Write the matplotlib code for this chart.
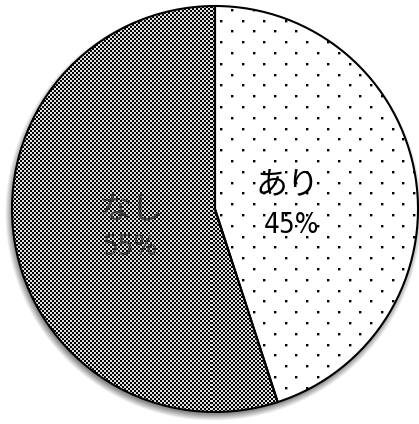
import numpy as np
import matplotlib
matplotlib.use("Agg")
import matplotlib.pyplot as plt
from matplotlib.patches import PathPatch

# Survey answer shares (percent)
labels = ["あり", "なし"]
shares = [45, 55]

W, H = 419, 424
fig = plt.figure(figsize=(W / 100, H / 100), dpi=100)
ax = fig.add_axes([0, 0, 1, 1])

# pie geometry in pixel units (y measured from the top)
cx, cy, r = 215, 209, 203

wedges, _ = ax.pie(shares, startangle=90, counterclock=False,
                   center=(cx, H - cy), radius=r,
                   colors=["white", "white"],
                   wedgeprops=dict(linewidth=0), frame=True)
ax.set_xlim(0, W)
ax.set_ylim(0, H)
ax.set_aspect("equal")
ax.axis("off")

yy, xx = np.mgrid[0:H, 0:W] + 0.5

# soft drop shadow under the disc
d = np.hypot(xx - (cx - 2), yy - (cy + 4))
sh = np.clip((r + 5 - d) / 7.0, 0, 1) * 0.45
shadow = np.zeros((H, W, 4))
shadow[..., 3] = sh
ax.imshow(shadow, extent=(0, W, 0, H), origin="upper",
          interpolation="bilinear", zorder=0.5)

# fine checker screen for the "なし" slice
ixx = np.arange(W)[None, :].repeat(H, 0)
iyy = np.arange(H)[:, None].repeat(W, 1)
checker = np.where((ixx // 2 + iyy // 2) % 2 == 0, 1.0, 0.12)
chk = np.zeros((H, W, 4))
chk[..., 3] = checker
im1 = ax.imshow(chk, extent=(0, W, 0, H), origin="upper",
                interpolation="nearest", zorder=2)
im1.set_clip_path(wedges[1])

# staggered dot screen for the "あり" slice
dot = np.array([[1.0, 1.0, 0.4],
                [1.0, 1.0, 0.4],
                [0.4, 0.4, 0.15]])
dots = np.zeros((H, W, 4))
dx, dy = 21.4, 10.8
k = 0
y = 106 - dy * 10
while y < H:
    x0 = 305 if k % 2 == 0 else 305 + dx / 2
    x = x0 - dx * 15
    while x < W:
        px, py = int(round(x)), int(round(y))
        if 0 <= px < W - 3 and 0 <= py < H - 3:
            dots[py:py + 3, px:px + 3, 3] = dot
        x += dx
    y += dy
    k += 1
im2 = ax.imshow(dots, extent=(0, W, 0, H), origin="upper",
                interpolation="nearest", zorder=2)
im2.set_clip_path(wedges[0])

# slice outlines on top of the screens
for w in wedges:
    ax.add_patch(PathPatch(w.get_path(), transform=w.get_transform(),
                           fill=False, lw=1.5, ec="black", zorder=4,
                           joinstyle="miter"))

jp = ["Noto Sans CJK JP", "DejaVu Sans"]
num_kw = dict(family=["DejaVu Sans"], fontstretch="condensed")

ax.text(288, H - 185, labels[0], ha="center", va="center",
        fontsize=23, family=jp, color="black", zorder=5)
ax.text(291, H - 225, f"{shares[0]}%", ha="center", va="center",
        fontsize=20, color="black", zorder=5, **num_kw)
ax.text(131, H - 210, labels[1], ha="center", va="center",
        fontsize=23, family=jp, color="#3a3a3a", zorder=5)
ax.text(130, H - 247, f"{shares[1]}%", ha="center", va="center",
        fontsize=20, color="#3a3a3a", zorder=5, **num_kw)

fig.savefig("out.png", dpi=100)
